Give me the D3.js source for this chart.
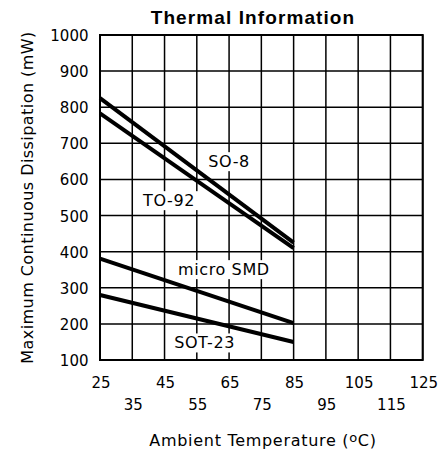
<!DOCTYPE html>
<html>
<head>
<meta charset="utf-8">
<script src="https://cdn.jsdelivr.net/npm/d3@7"></script>
<style>
  html, body { margin: 0; padding: 0; background: #fff; }
  svg { display: block; }
  .lbl { font-family: "DejaVu Sans", sans-serif; font-size: 16px; fill: #000; letter-spacing: 0.6px; }
  .tick { font-family: "DejaVu Sans", sans-serif; font-size: 15px; fill: #000; }
  .title { font-family: "Liberation Sans", Arial, sans-serif; font-weight: bold; font-size: 19px; fill: #000; }
</style>
</head>
<body>
<svg id="chart" width="441" height="451"></svg>
<script>
// Derating curves (mW vs ambient °C).
const temps = [25, 85];
const so8 = [825, 425];
const to92 = [783, 410];
const microSmd = [381, 202];
const sot23 = [280, 150];

const xTicks = [25, 35, 45, 55, 65, 75, 85, 95, 105, 115, 125];
const yTicks = [100, 200, 300, 400, 500, 600, 700, 800, 900, 1000];

// label anchors in data units: [temp, mW]
const tags = [
  { text: "SO-8", at: [65, 634] },
  { text: "TO-92", at: [46.4, 526] },
  { text: "micro SMD", at: [63.4, 335] },
  { text: "SOT-23", at: [57.4, 132] },
];

const svg = d3.select("#chart");
const W = 441, H = 451;
const m = { left: 100, right: W - 422.7, top: 35, bottom: H - 360 };

const x = d3.scaleLinear().domain([25, 125]).range([m.left, W - m.right]);
const y = d3.scaleLinear().domain([100, 1000]).range([H - m.bottom, m.top]);

svg.append("text").attr("class", "title")
  .attr("x", 253).attr("y", 23.5).attr("text-anchor", "middle")
  .style("letter-spacing", "1.1px")
  .text("Thermal Information");

// grid
const g = svg.append("g");
g.selectAll("line.vx").data(xTicks).join("line")
  .attr("x1", d => x(d)).attr("x2", d => x(d))
  .attr("y1", y(100)).attr("y2", y(1000))
  .attr("stroke", "#000").attr("stroke-width", 1.5);
g.selectAll("line.hy").data(yTicks).join("line")
  .attr("y1", d => y(d)).attr("y2", d => y(d))
  .attr("x1", x(25)).attr("x2", x(125))
  .attr("stroke", "#000").attr("stroke-width", 1.5);
g.append("rect")
  .attr("x", x(25)).attr("y", y(1000))
  .attr("width", x(125) - x(25)).attr("height", y(100) - y(1000))
  .attr("fill", "none").attr("stroke", "#000").attr("stroke-width", 2);

// knock-outs sit between grid and curves
const knock = svg.append("g");
const curves = svg.append("g");
const tagLayer = svg.append("g");

const line = d3.line().x(d => x(d[0])).y(d => y(d[1]));
[so8, to92, microSmd, sot23].forEach(s => {
  curves.append("path")
    .attr("d", line(temps.map((t, i) => [t, s[i]])))
    .attr("fill", "none").attr("stroke", "#000").attr("stroke-width", 4);
});

tags.forEach(t => {
  const tx = tagLayer.append("text").attr("class", "lbl")
    .attr("x", x(t.at[0])).attr("y", y(t.at[1]))
    .attr("text-anchor", "middle").text(t.text);
  const b = tx.node().getBBox();
  knock.append("rect")
    .attr("x", b.x - 4).attr("y", b.y)
    .attr("width", b.width + 8).attr("height", b.height)
    .attr("fill", "#fff");
});

// y tick labels
svg.selectAll("text.yt").data(yTicks).join("text")
  .attr("class", "tick yt")
  .attr("x", 88.5).attr("y", d => y(d) + 6)
  .attr("text-anchor", "end").text(d => d);

// x tick labels, staggered in two rows
svg.selectAll("text.xt").data(xTicks).join("text")
  .attr("class", "tick xt")
  .attr("x", d => x(d) + 1)
  .attr("y", (d, i) => i % 2 === 0 ? 388 : 410)
  .attr("text-anchor", "middle").text(d => d);

// axis titles
const xt = svg.append("text").attr("class", "lbl")
  .attr("x", 263).attr("y", 446).attr("text-anchor", "middle")
  .style("letter-spacing", "0.7px");
xt.append("tspan").text("Ambient Temperature (");
xt.append("tspan").attr("font-size", 13).attr("dy", -4).text("o");
xt.append("tspan").attr("dy", 4).text("C)");

svg.append("text").attr("class", "lbl")
  .attr("transform", "translate(33,197.5) rotate(-90)")
  .attr("text-anchor", "middle")
  .style("letter-spacing", "0.45px")
  .text("Maximum Continuous Dissipation (mW)");
</script>
</body>
</html>
